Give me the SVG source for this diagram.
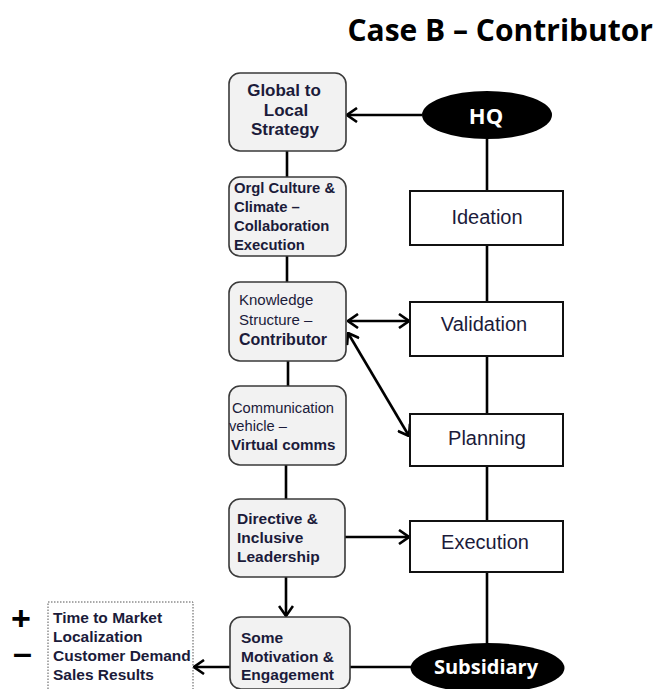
<svg xmlns="http://www.w3.org/2000/svg" width="662" height="689" viewBox="0 0 662 689">
<style>
.lbox{fill:#f2f2f2;stroke:#3a3a3a;stroke-width:1.6}
.rbox{fill:#ffffff;stroke:#111;stroke-width:2}
.ell{fill:#000}
.line{stroke:#000;stroke-width:2.6;fill:none}
.t{font-family:"Liberation Sans",Arial,sans-serif;fill:#1b1b3a}
.b{font-weight:bold}
.rt{font-family:"Liberation Sans",Arial,sans-serif;font-size:20px;fill:#1b1b3a;text-anchor:middle}
.et{font-family:"Open Sans","Liberation Sans",sans-serif;font-weight:bold;fill:#fff;text-anchor:middle}
</style>
<defs>
<marker id="ah" viewBox="0 0 12 16" refX="11" refY="8" markerWidth="12" markerHeight="16" markerUnits="userSpaceOnUse" orient="auto-start-reverse">
<path d="M1,1 L11,8 L1,15" fill="none" stroke="#000" stroke-width="2.6"/>
</marker>
</defs>
<rect width="662" height="689" fill="#fff"/>
<text x="653" y="41" font-family="'Open Sans','Liberation Sans',sans-serif" font-weight="bold" font-size="30" text-anchor="end" fill="#000">Case B – Contributor</text>

<g id="connectors">
<line class="line" x1="422" y1="115" x2="347" y2="115" marker-end="url(#ah)"/>
<line class="line" x1="287" y1="151" x2="287" y2="177"/>
<line class="line" x1="287" y1="240" x2="287" y2="282"/>
<line class="line" x1="288" y1="361" x2="288" y2="386"/>
<line class="line" x1="286" y1="465" x2="286" y2="499"/>
<line class="line" x1="348" y1="321" x2="409" y2="321" marker-start="url(#ah)" marker-end="url(#ah)"/>
<line class="line" x1="348" y1="333" x2="409" y2="436" marker-start="url(#ah)" marker-end="url(#ah)"/>
<line class="line" x1="345" y1="537" x2="409" y2="537" marker-end="url(#ah)"/>
<line class="line" x1="286" y1="577" x2="286" y2="616" marker-end="url(#ah)"/>
<line class="line" x1="230" y1="667" x2="194" y2="667" marker-end="url(#ah)"/>
<line class="line" x1="350" y1="667" x2="411" y2="667"/>
<line class="line" x1="487" y1="139" x2="487" y2="191"/>
<line class="line" x1="487" y1="245" x2="487" y2="302"/>
<line class="line" x1="487" y1="356" x2="487" y2="414"/>
<line class="line" x1="487" y1="466" x2="487" y2="521"/>
<line class="line" x1="487" y1="572" x2="487" y2="643"/>
</g>

<g id="hq">
<ellipse class="ell" cx="487" cy="115" rx="65" ry="24"/>
<text class="et" x="486" y="124" font-size="22">HQ</text>
</g>
<g id="ideation">
<rect class="rbox" x="410" y="191" width="153" height="54"/>
<text class="rt" x="487" y="224">Ideation</text>
</g>
<g id="validation">
<rect class="rbox" x="410" y="302" width="153" height="54"/>
<text class="rt" x="484" y="331">Validation</text>
</g>
<g id="planning">
<rect class="rbox" x="410" y="414" width="153" height="52"/>
<text class="rt" x="487" y="445">Planning</text>
</g>
<g id="execution">
<rect class="rbox" x="410" y="521" width="153" height="51"/>
<text class="rt" x="485" y="549">Execution</text>
</g>
<g id="subsidiary">
<ellipse class="ell" cx="487.5" cy="668" rx="77" ry="25"/>
<text class="et" x="486" y="674" font-size="20">Subsidiary</text>
</g>

<g id="global">
<rect class="lbox" x="229" y="73" width="117" height="78" rx="11"/>
<text class="t b" font-size="17" text-anchor="middle"><tspan x="284" y="96">Global to</tspan><tspan x="286" y="115.5">Local</tspan><tspan x="285" y="135">Strategy</tspan></text>
</g>
<g id="culture">
<rect class="lbox" x="229" y="177" width="117" height="79" rx="11"/>
<text class="t b" font-size="14.8"><tspan x="234" y="193">Orgl Culture &amp;</tspan><tspan x="234" y="212">Climate –</tspan><tspan x="234" y="231">Collaboration</tspan><tspan x="234" y="250">Execution</tspan></text>
</g>
<g id="knowledge">
<rect class="lbox" x="229" y="282" width="117" height="79" rx="11"/>
<text class="t" font-size="15"><tspan x="239" y="305">Knowledge</tspan><tspan x="239" y="325">Structure  –</tspan><tspan x="239" y="345" class="b" font-size="16">Contributor</tspan></text>
</g>
<g id="communication">
<rect class="lbox" x="229" y="386" width="117" height="79" rx="11"/>
<text class="t" font-size="14.7"><tspan x="232" y="413">Communication</tspan><tspan x="229" y="431">vehicle  –</tspan><tspan x="231" y="450" class="b" font-size="15.2">Virtual comms</tspan></text>
</g>
<g id="leadership">
<rect class="lbox" x="229" y="499" width="116" height="78" rx="11"/>
<text class="t b" font-size="15.5"><tspan x="237" y="524">Directive &amp;</tspan><tspan x="237" y="543">Inclusive</tspan><tspan x="237" y="562">Leadership</tspan></text>
</g>
<g id="motivation">
<rect class="lbox" x="230" y="617" width="120" height="72" rx="11"/>
<text class="t b" font-size="15.5"><tspan x="241" y="643">Some</tspan><tspan x="241" y="662">Motivation  &amp;</tspan><tspan x="241" y="680">Engagement</tspan></text>
</g>
<g id="outcomes">
<rect x="48" y="602" width="145" height="95" fill="#fff" stroke="#555" stroke-width="1" stroke-dasharray="1.5,1.5"/>
<text class="t b" font-size="15.5"><tspan x="53" y="623">Time to Market</tspan><tspan x="53" y="642">Localization</tspan><tspan x="53" y="661">Customer Demand</tspan><tspan x="53" y="680">Sales  Results</tspan></text>
<text x="11" y="630" font-family="'Liberation Sans',Arial,sans-serif" font-weight="bold" font-size="34" fill="#000">+</text>
<text x="13" y="664" font-family="'Liberation Sans',Arial,sans-serif" font-weight="bold" font-size="34" fill="#000">–</text>
</g>
</svg>
